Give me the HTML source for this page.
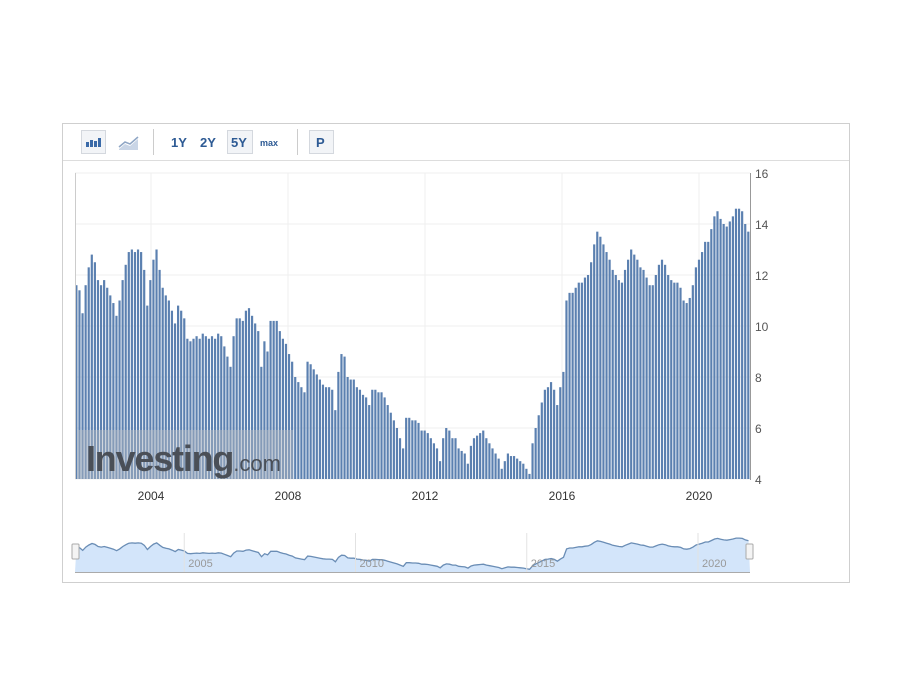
<!DOCTYPE html>
<html><head><meta charset="utf-8"><style>
body{margin:0;background:#fff;width:900px;height:700px;overflow:hidden;font-family:"Liberation Sans",sans-serif;}
svg{position:absolute;left:0;top:0}
</style></head><body>
<svg width="900" height="700">
<rect x="62.5" y="123.5" width="787" height="459" fill="#fff" stroke="#cfcfcf"/>
<line x1="63" y1="160.5" x2="849" y2="160.5" stroke="#ddd"/>
<g>
 <rect x="81.5" y="130.5" width="24" height="23" fill="#f2f4f7" stroke="#d4d8de"/>
 <g fill="#3a6aa8"><rect x="86" y="142" width="3" height="5"/><rect x="90" y="140" width="3" height="7"/><rect x="94" y="141" width="3" height="6"/><rect x="98" y="138" width="3" height="9"/></g>
 <g><path d="M119 149 L125 144 L130 146 L138 139 L138 150 L119 150Z" fill="#c9d5e6"/><path d="M119 147 L125 142 L130 144 L138 137" fill="none" stroke="#8fa6c5" stroke-width="1.5"/></g>
 <line x1="153.5" y1="129" x2="153.5" y2="155" stroke="#ccc"/>
 <text x="171" y="147" font-size="13" font-weight="bold" fill="#2d5a94">1Y</text>
 <text x="200" y="147" font-size="13" font-weight="bold" fill="#2d5a94">2Y</text>
 <rect x="227.5" y="130.5" width="25" height="23" fill="#f2f4f7" stroke="#d4d8de"/>
 <text x="231" y="147" font-size="13" font-weight="bold" fill="#2d5a94">5Y</text>
 <text x="260" y="146" font-size="9" font-weight="bold" fill="#2d5a94">max</text>
 <line x1="297.5" y1="129" x2="297.5" y2="155" stroke="#ccc"/>
 <rect x="309.5" y="130.5" width="24" height="23" fill="#f2f4f7" stroke="#d4d8de"/>
 <text x="316" y="147" font-size="13" font-weight="bold" fill="#2d5a94">P</text>
</g>
<g id="grid"></g>
<g id="bars"></g>
<g id="axes"></g>
<g>
 <rect x="77" y="430" width="216" height="49" fill="#b8bcc4" opacity="0.45"/>
 <text x="86" y="471" font-size="36" font-weight="bold" fill="#4a4f57" letter-spacing="-1.2">Investing<tspan font-size="22" font-weight="normal" letter-spacing="0">.com</tspan></text>
</g>
<g id="nav"></g>
</svg>
<script>
const tickYears=[2004,2008,2012,2016,2020];
const yTicks=[4,6,8,10,12,14,16];
const navYears=[2005,2010,2015,2020];
const values=[11.6,11.4,
10.5,11.6,12.3,12.8,12.5,11.8,11.6,11.8,11.5,11.2,10.9,10.4,
11.0,11.8,12.4,12.9,13.0,12.9,13.0,12.9,12.2,10.8,11.8,12.6,
13.0,12.2,11.5,11.2,11.0,10.6,10.1,10.8,10.6,10.3,9.5,9.4,
9.5,9.6,9.5,9.7,9.6,9.5,9.6,9.5,9.7,9.6,9.2,8.8,
8.4,9.6,10.3,10.3,10.2,10.6,10.7,10.4,10.1,9.8,8.4,9.4,
9.0,10.2,10.2,10.2,9.8,9.5,9.3,8.9,8.6,8.0,7.8,7.6,
7.4,8.6,8.5,8.3,8.1,7.9,7.7,7.6,7.6,7.5,6.7,8.2,
8.9,8.8,8.0,7.9,7.9,7.6,7.5,7.3,7.2,6.9,7.5,7.5,
7.4,7.4,7.2,6.9,6.6,6.3,6.0,5.6,5.2,6.4,6.4,6.3,
6.3,6.2,5.9,5.9,5.8,5.6,5.4,5.2,4.7,5.6,6.0,5.9,
5.6,5.6,5.2,5.1,5.0,4.6,5.3,5.6,5.7,5.8,5.9,5.6,
5.4,5.2,5.0,4.8,4.4,4.7,5.0,4.9,4.9,4.8,4.7,4.6,
4.4,4.2,5.4,6.0,6.5,7.0,7.5,7.6,7.8,7.5,6.9,7.6,
8.2,11.0,11.3,11.3,11.5,11.7,11.7,11.9,12.0,12.5,13.2,13.7,
13.5,13.2,12.9,12.6,12.2,12.0,11.8,11.7,12.2,12.6,13.0,12.8,
12.6,12.3,12.2,11.9,11.6,11.6,12.0,12.4,12.6,12.4,12.0,11.8,
11.7,11.7,11.5,11.0,10.9,11.1,11.6,12.3,12.6,12.9,13.3,13.3,
13.8,14.3,14.5,14.2,14.0,13.9,14.1,14.3,14.6,14.6,14.5,14.0,13.7];
const NS='http://www.w3.org/2000/svg';
const X0=75,X1=750,Y0=173,Y1=479,yMin=4,yMax=16;
const bw=(X1-X0)/values.length;
function xIdx(i){return X0+i*bw;}
function xYear(y){return 151+(y-2004)*34.25;}
function yv(v){return Y1-(v-yMin)/(yMax-yMin)*(Y1-Y0);}
function mk(t,a,p){const e=document.createElementNS(NS,t);for(const k in a)e.setAttribute(k,a[k]);p.appendChild(e);return e;}
const grid=document.getElementById('grid'),bars=document.getElementById('bars'),axes=document.getElementById('axes'),nav=document.getElementById('nav');
yTicks.forEach(t=>{const l=mk('line',{x1:X0,x2:X1,y1:yv(t),y2:yv(t),stroke:'#efefef'},grid);


const tx=mk('text',{x:X1+5,y:yv(t)+5,'font-size':12,fill:'#555'},axes);tx.textContent=t;

});
tickYears.forEach(y=>{const x=xYear(y);const l=mk('line',{x1:x,x2:x,y1:Y0,y2:Y1,stroke:'#efefef'},grid);


const tx=mk('text',{x:x,y:Y1+21,'font-size':12,fill:'#333','text-anchor':'middle'},axes);tx.textContent=y;

});
values.forEach((v,i)=>{const r=mk('rect',{x:xIdx(i)+0.3,y:yv(v),width:bw-0.9,height:Y1-yv(v),fill:'#5b80b0'},bars);

});
let la=mk('line',{x1:X0+0.5,x2:X0+0.5,y1:Y0,y2:Y1,stroke:'#ccc'},axes);


let ra=mk('line',{x1:X1+0.5,x2:X1+0.5,y1:Y0,y2:Y1+1,stroke:'#999'},axes);


const NB=572;
function ny(v){return 569-(v-4.3)*3;}
let d='M'+X0+' '+NB;values.forEach((v,i)=>{d+=' L'+(xIdx(i)+bw/2).toFixed(1)+' '+ny(v).toFixed(1);});d+=' L'+X1+' '+NB+'Z';
const ar=mk('path',{d:d,fill:'#d3e5fa',stroke:'none'},nav);


let ld='';values.forEach((v,i)=>{ld+=(i?' L':'M')+(xIdx(i)+bw/2).toFixed(1)+' '+ny(v).toFixed(1);});
const ln=mk('path',{d:ld,fill:'none',stroke:'#6a8db5','stroke-width':1.3},nav);


navYears.forEach(y=>{const x=xYear(y)-1;mk('line',{x1:x,x2:x,y1:533,y2:NB,stroke:'#e2e2e2'},nav);
const tx=mk('text',{x:x+4,y:567,'font-size':11,fill:'#999'},nav);tx.textContent=y;

});
mk('line',{x1:X0,x2:X1,y1:NB+0.5,y2:NB+0.5,stroke:'#aaa'},nav);
[X0-3,X1-4].forEach((x,k)=>{const h=mk('rect',{x:x,y:544,width:7,height:15,fill:'#f4f4f4',stroke:'#aaa',rx:1},nav);

});
</script>
</body></html>
